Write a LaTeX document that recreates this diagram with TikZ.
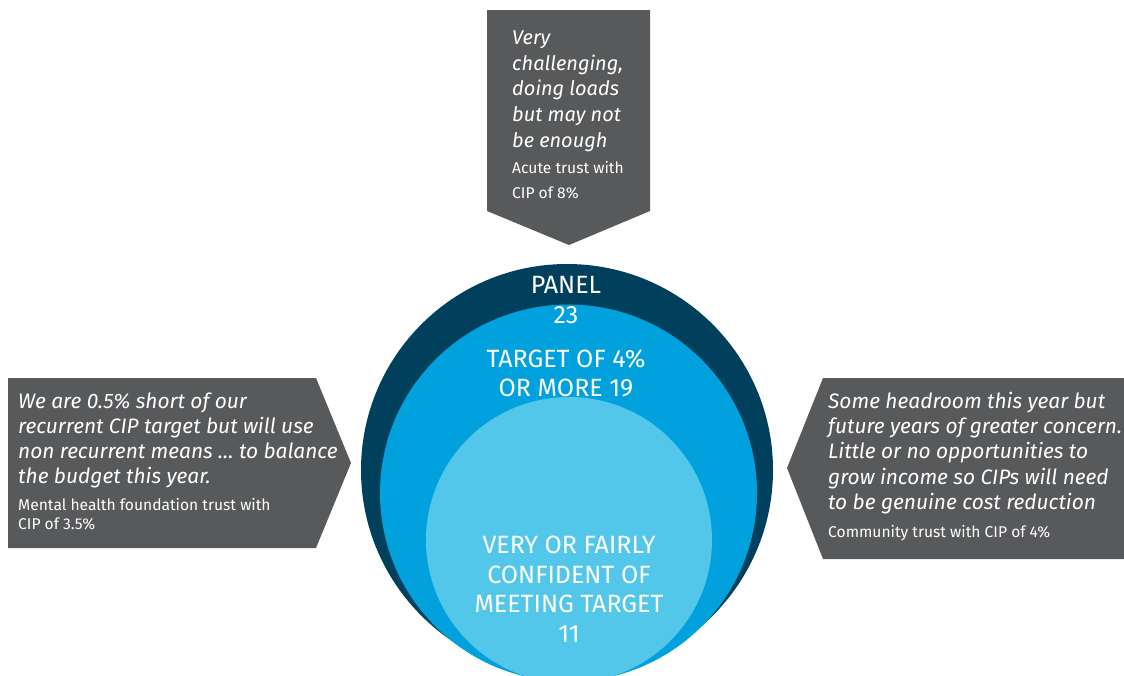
\documentclass[tikz,border=0pt]{standalone}
\usepackage{fontspec}
\setmainfont{Fira Sans}
\definecolor{boxgray}{RGB}{88,89,91}
\definecolor{navy}{RGB}{0,64,92}
\definecolor{midblue}{RGB}{0,161,220}
\definecolor{lightblue}{RGB}{83,199,234}
\begin{document}
\begin{tikzpicture}[x=1pt,y=-1pt,
  callout/.style={fill=boxgray},
  quote/.style={text=white,inner sep=0pt,anchor=base west,font=\fontsize{20}{25}\selectfont\itshape},
  widequote/.style={quote,font=\fontsize{20.9}{25}\selectfont\itshape},
  source/.style={text=white,inner sep=0pt,anchor=base west,font=\fontsize{15.6}{19}\selectfont},
  ctext/.style={text=white,inner sep=0pt,anchor=base,font=\fontsize{25}{29}\selectfont}]
\useasboundingbox (0,0) rectangle (1124,675);
\clip (0,0) rectangle (1124,675);
% circles
\fill[navy] (567,470) circle[radius=206];
\fill[midblue] (568.5,493) circle[radius=188.5];
\fill[lightblue] (569,540) circle[radius=143];
% callouts
\fill[callout] (487,10) -- (650,10) -- (650,211) -- (569,245) -- (487,211) -- cycle;
\fill[callout] (8,378) -- (316,378) -- (351,463) -- (316,548) -- (8,548) -- cycle;
\fill[callout] (823,378) -- (1124,378) -- (1124,559) -- (823,559) -- (787,468) -- cycle;
% top callout text
\node[quote] (t1) at (512,44) {Very};
\node[quote] (t2) at (512,70) {challenging,};
\node[quote] (t3) at (512,95) {doing loads};
\node[quote] (t4) at (512,121) {but may not};
\node[quote] (t5) at (512,147) {be enough};
\node[source] (t6) at (512,173) {Acute trust with};
\node[source] (t7) at (512,198) {CIP of 8\%};
% left callout text
\node[widequote] (l1) at (18,408) {We are 0.5\% short of our};
\node[widequote] (l2) at (18,433) {recurrent CIP target but will use};
\node[widequote] (l3) at (18,458) {non recurrent means \dots\ to balance};
\node[widequote] (l4) at (18,483) {the budget this year.};
\node[source] (l5) at (18,510) {Mental health foundation trust with};
\node[source] (l6) at (18,529) {CIP of 3.5\%};
% right callout text
\node[widequote] (r1) at (828,408) {Some headroom this year but};
\node[widequote] (r2) at (828,433) {future years of greater concern.};
\node[widequote] (r3) at (828,458) {Little or no opportunities to};
\node[widequote] (r4) at (828,484) {grow income so CIPs will need};
\node[widequote] (r5) at (828,509) {to be genuine cost reduction};
\node[source] (r6) at (828,537) {Community trust with CIP of 4\%};
% circle texts
\node[ctext] (p1) at (566,293) {PANEL};
\node[ctext] (p2) at (566,323) {23};
\node[ctext] (g1) at (566,367) {TARGET OF 4\%};
\node[ctext] (g2) at (566,396) {OR MORE 19};
\node[ctext] (c1) at (569,553) {VERY OR FAIRLY};
\node[ctext] (c2) at (569,583) {CONFIDENT OF};
\node[ctext] (c3) at (569,612) {MEETING TARGET};
\node[ctext] (c4) at (569,642) {11};
\end{tikzpicture}
\end{document}
